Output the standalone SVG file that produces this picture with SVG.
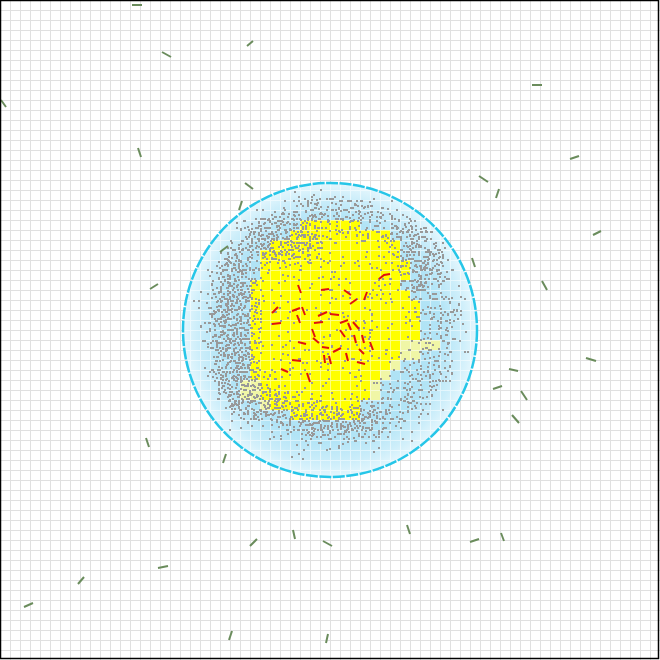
<svg xmlns="http://www.w3.org/2000/svg" width="660" height="660" viewBox="0 0 660 660">
<style>
.g{stroke:#6a8c5c;stroke-width:2;fill:none}
.r{stroke:#e01010;stroke-width:2;fill:none}
.gl{fill:none;stroke-width:1;shape-rendering:crispEdges}
</style>
<defs>
<path id="gl" d="M10.5 0V660M20.5 0V660M30.5 0V660M40.5 0V660M50.5 0V660M60.5 0V660M70.5 0V660M80.5 0V660M90.5 0V660M100.5 0V660M110.5 0V660M120.5 0V660M130.5 0V660M140.5 0V660M150.5 0V660M160.5 0V660M170.5 0V660M180.5 0V660M190.5 0V660M200.5 0V660M210.5 0V660M220.5 0V660M230.5 0V660M240.5 0V660M250.5 0V660M260.5 0V660M270.5 0V660M280.5 0V660M290.5 0V660M300.5 0V660M310.5 0V660M320.5 0V660M330.5 0V660M340.5 0V660M350.5 0V660M360.5 0V660M370.5 0V660M380.5 0V660M390.5 0V660M400.5 0V660M410.5 0V660M420.5 0V660M430.5 0V660M440.5 0V660M450.5 0V660M460.5 0V660M470.5 0V660M480.5 0V660M490.5 0V660M500.5 0V660M510.5 0V660M520.5 0V660M530.5 0V660M540.5 0V660M550.5 0V660M560.5 0V660M570.5 0V660M580.5 0V660M590.5 0V660M600.5 0V660M610.5 0V660M620.5 0V660M630.5 0V660M640.5 0V660M650.5 0V660M0 10.5H660M0 20.5H660M0 30.5H660M0 40.5H660M0 50.5H660M0 60.5H660M0 70.5H660M0 80.5H660M0 90.5H660M0 100.5H660M0 110.5H660M0 120.5H660M0 130.5H660M0 140.5H660M0 150.5H660M0 160.5H660M0 170.5H660M0 180.5H660M0 190.5H660M0 200.5H660M0 210.5H660M0 220.5H660M0 230.5H660M0 240.5H660M0 250.5H660M0 260.5H660M0 270.5H660M0 280.5H660M0 290.5H660M0 300.5H660M0 310.5H660M0 320.5H660M0 330.5H660M0 340.5H660M0 350.5H660M0 360.5H660M0 370.5H660M0 380.5H660M0 390.5H660M0 400.5H660M0 410.5H660M0 420.5H660M0 430.5H660M0 440.5H660M0 450.5H660M0 460.5H660M0 470.5H660M0 480.5H660M0 490.5H660M0 500.5H660M0 510.5H660M0 520.5H660M0 530.5H660M0 540.5H660M0 550.5H660M0 560.5H660M0 570.5H660M0 580.5H660M0 590.5H660M0 600.5H660M0 610.5H660M0 620.5H660M0 630.5H660M0 640.5H660M0 650.5H660"/>
<radialGradient id="blue" cx="330" cy="330" r="148" gradientUnits="userSpaceOnUse">
<stop offset="0" stop-color="#a8dff3"/>
<stop offset="0.75" stop-color="#b2e4f6"/>
<stop offset="0.9" stop-color="#cdeefa"/>
<stop offset="1" stop-color="#e6f7fd"/>
</radialGradient>
<radialGradient id="dens" cx="335" cy="318" r="150" gradientUnits="userSpaceOnUse">
<stop offset="0" stop-color="#000" stop-opacity="0.58"/>
<stop offset="0.52" stop-color="#000" stop-opacity="0.58"/>
<stop offset="0.64" stop-color="#000" stop-opacity="0.76"/>
<stop offset="0.8" stop-color="#000" stop-opacity="0.75"/>
<stop offset="0.88" stop-color="#000" stop-opacity="0.54"/>
<stop offset="1" stop-color="#000" stop-opacity="0.38"/>
</radialGradient>
<clipPath id="disc"><circle cx="330" cy="330" r="146"/></clipPath>
<filter id="speck" filterUnits="userSpaceOnUse" x="180" y="180" width="300" height="300" color-interpolation-filters="sRGB">
<feGaussianBlur in="SourceAlpha" stdDeviation="6" result="d"/>
<feTurbulence type="fractalNoise" baseFrequency="0.55" numOctaves="1" seed="5" result="t"/>
<feColorMatrix in="t" type="matrix" values="0 0 0 0 0 0 0 0 0 0 0 0 0 0 0 1 0 0 0 0" result="n"/>
<feComposite in="n" in2="d" operator="arithmetic" k1="0" k2="1" k3="0.25" k4="-0.37" result="s"/>
<feComponentTransfer in="s" result="m"><feFuncA type="discrete" tableValues="0 1"/></feComponentTransfer>
<feConvolveMatrix in="m" order="2" kernelMatrix="1 1 1 1" divisor="1" preserveAlpha="false" edgeMode="none" result="m2"/>
<feFlood flood-color="#999999"/>
<feComposite in2="m2" operator="in"/>
</filter>
</defs>
<rect x="0" y="0" width="660" height="660" fill="#ffffff"/>
<use href="#gl" class="gl" stroke="#e0e0e0"/>
<g id="cell">
<circle cx="330" cy="330" r="147" fill="url(#blue)"/>
<path fill="#ffff00" d="M300 220h60v10h-60zM290 230h100v10h-100zM270 240h130v10h-130zM260 250h140v10h-140zM260 260h150v20h-150zM250 280h150v10h-150zM250 290h160v10h-160zM250 300h170v40h-170zM250 340h150v20h-150zM250 360h140v10h-140zM250 370h130v10h-130zM260 380h110v20h-110zM270 400h90v10h-90zM290 410h70v10h-70z"/>
<path fill="#f0f6a6" d="M400 340h40v10h-40zM400 350h20v10h-20zM390 360h10v10h-10zM380 370h10v10h-10zM370 380h10v20h-10zM240 380h20v20h-20zM260 400h10v10h-10z"/>
<use href="#gl" class="gl" stroke="#ffffff" stroke-opacity="0.5" clip-path="url(#disc)"/>
<g clip-path="url(#disc)">
<g filter="url(#speck)">
<circle cx="330" cy="330" r="146" fill="url(#dens)"/>
<g fill="#000" fill-opacity="0.85">
<ellipse cx="232" cy="330" rx="25" ry="80"/>
<ellipse cx="285" cy="240" rx="40" ry="25"/>
<ellipse cx="330" cy="420" rx="55" ry="16"/>
<ellipse cx="255" cy="400" rx="30" ry="22"/>
<ellipse cx="420" cy="260" rx="25" ry="35" fill-opacity="0.75"/>
<ellipse cx="345" cy="215" rx="35" ry="10" fill-opacity="0.5"/>
</g>
</g>
</g>
<circle cx="330" cy="330" r="147" fill="none" stroke="#26c6e8" stroke-width="2.5" stroke-dasharray="12 1.5"/>
</g>
<g id="red">
<line class="r" x1="298" y1="285" x2="301" y2="293"/>
<line class="r" x1="321" y1="290" x2="329" y2="289"/>
<line class="r" x1="344" y1="290" x2="351" y2="295"/>
<line class="r" x1="350" y1="304" x2="357" y2="299"/>
<line class="r" x1="364" y1="300" x2="367" y2="292"/>
<polyline class="r" points="379,279 384,275 390,274"/>
<line class="r" x1="272" y1="313" x2="278" y2="307"/>
<line class="r" x1="292" y1="311" x2="300" y2="308"/>
<line class="r" x1="302" y1="307" x2="305" y2="315"/>
<line class="r" x1="318" y1="316" x2="327" y2="312"/>
<line class="r" x1="330" y1="314" x2="339" y2="315"/>
<line class="r" x1="272" y1="324" x2="281" y2="323"/>
<line class="r" x1="297" y1="315" x2="300" y2="323"/>
<line class="r" x1="314" y1="323" x2="323" y2="322"/>
<line class="r" x1="340" y1="323" x2="348" y2="320"/>
<line class="r" x1="348" y1="323" x2="351" y2="330"/>
<line class="r" x1="353" y1="322" x2="359" y2="329"/>
<line class="r" x1="312" y1="329" x2="315" y2="337"/>
<line class="r" x1="340" y1="330" x2="345" y2="337"/>
<line class="r" x1="354" y1="335" x2="356" y2="343"/>
<line class="r" x1="362" y1="335" x2="364" y2="343"/>
<line class="r" x1="370" y1="342" x2="373" y2="350"/>
<line class="r" x1="298" y1="342" x2="306" y2="344"/>
<line class="r" x1="313" y1="338" x2="319" y2="343"/>
<line class="r" x1="322" y1="347" x2="329" y2="348"/>
<line class="r" x1="333" y1="352" x2="341" y2="348"/>
<line class="r" x1="324" y1="355" x2="325" y2="363"/>
<line class="r" x1="329" y1="356" x2="331" y2="364"/>
<line class="r" x1="346" y1="353" x2="348" y2="361"/>
<line class="r" x1="359" y1="349" x2="364" y2="354"/>
<line class="r" x1="357" y1="362" x2="365" y2="364"/>
<line class="r" x1="292" y1="360" x2="301" y2="361"/>
<line class="r" x1="281" y1="369" x2="288" y2="372"/>
<line class="r" x1="307" y1="373" x2="310" y2="382"/>
</g>
<g id="green">
<line class="g" x1="132" y1="5" x2="142" y2="5"/>
<line class="g" x1="162" y1="52" x2="171" y2="57"/>
<line class="g" x1="1" y1="100" x2="6" y2="107"/>
<line class="g" x1="138" y1="148" x2="141" y2="157"/>
<line class="g" x1="247" y1="46" x2="253" y2="41"/>
<line class="g" x1="532" y1="85" x2="542" y2="85"/>
<line class="g" x1="570" y1="159" x2="579" y2="156"/>
<line class="g" x1="479" y1="176" x2="488" y2="182"/>
<line class="g" x1="499" y1="189" x2="496" y2="198"/>
<line class="g" x1="245" y1="183" x2="253" y2="189"/>
<line class="g" x1="242" y1="201" x2="239" y2="210"/>
<line class="g" x1="220" y1="252" x2="228" y2="246"/>
<line class="g" x1="150" y1="289" x2="158" y2="284"/>
<line class="g" x1="593" y1="235" x2="601" y2="231"/>
<line class="g" x1="472" y1="258" x2="475" y2="267"/>
<line class="g" x1="542" y1="281" x2="547" y2="290"/>
<line class="g" x1="586" y1="358" x2="596" y2="361"/>
<line class="g" x1="509" y1="369" x2="518" y2="371"/>
<line class="g" x1="493" y1="389" x2="502" y2="386"/>
<line class="g" x1="521" y1="391" x2="527" y2="400"/>
<line class="g" x1="512" y1="415" x2="519" y2="423"/>
<line class="g" x1="146" y1="438" x2="149" y2="447"/>
<line class="g" x1="226" y1="454" x2="223" y2="463"/>
<line class="g" x1="250" y1="546" x2="257" y2="539"/>
<line class="g" x1="293" y1="530" x2="295" y2="539"/>
<line class="g" x1="323" y1="541" x2="332" y2="546"/>
<line class="g" x1="158" y1="568" x2="168" y2="566"/>
<line class="g" x1="78" y1="584" x2="84" y2="577"/>
<line class="g" x1="24" y1="607" x2="33" y2="603"/>
<line class="g" x1="229" y1="640" x2="232" y2="631"/>
<line class="g" x1="326" y1="643" x2="328" y2="634"/>
<line class="g" x1="407" y1="525" x2="410" y2="534"/>
<line class="g" x1="470" y1="542" x2="479" y2="539"/>
<line class="g" x1="501" y1="533" x2="504" y2="541"/>
</g>
<rect x="0.5" y="0.5" width="658" height="658" fill="none" stroke="#000" stroke-width="1.5"/>
</svg>
